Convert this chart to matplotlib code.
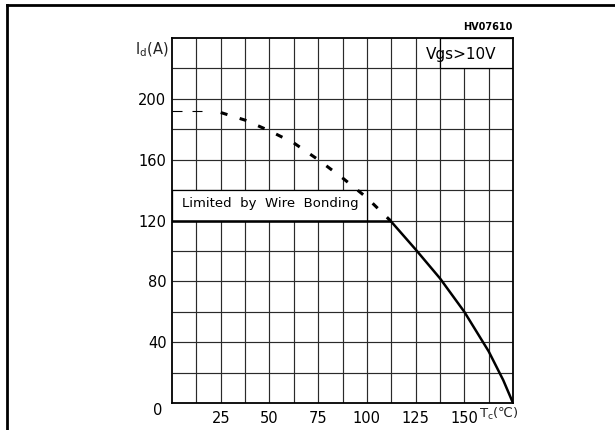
import numpy as np
import matplotlib
matplotlib.use("Agg")
import matplotlib.pyplot as plt
from matplotlib.patches import Rectangle
from matplotlib.lines import Line2D

plt.rcParams['font.family'] = ['DejaVu Sans']

# data
x_ticks = [25, 50, 75, 100, 125, 150]
y_ticks = [40, 80, 120, 160, 200]

# wire bonding limit (flat part) and the derating curve
limit_temp = [0, 112]
limit_id = [120, 120]

start_temp = [0, 20]
start_id = [192, 192]

dashed_temp = [25, 37.5, 50, 62.5, 75, 87.5, 100, 112]
dashed_id = [191, 186, 179, 171, 160, 148, 135, 120]

solid_temp = [112, 125, 137.5, 150, 162.5, 170, 175]
solid_id = [120, 101, 82, 60, 34, 15, 0]

fig = plt.figure(figsize=(6.15, 4.30), dpi=100)
ax = fig.add_axes([172 / 615, 1 - 403 / 430, 341 / 615, 365 / 430])
ax.set_xlim(0, 175)
ax.set_ylim(0, 240)

# grid: every 12.5 degC and 20 A
grid_x = np.arange(12.5, 175, 12.5)
grid_y = np.arange(20, 240, 20)
ax.vlines(grid_x, 0, 240, color='#2a2a2a', lw=0.85, zorder=1)
ax.hlines(grid_y, 0, 175, color='#2a2a2a', lw=0.85, zorder=1)

# label boxes blank out the grid underneath
ax.add_patch(Rectangle((137.5, 220), 37.5, 20, facecolor='white',
                       edgecolor='black', lw=0.9, zorder=2))
ax.add_patch(Rectangle((0, 120), 100, 20, facecolor='white',
                       edgecolor='black', lw=0.9, zorder=2))
ax.text(130.5, 229, 'Vgs>10V', fontsize=11, ha='left', va='center', zorder=3)
ax.text(5, 131, 'Limited  by  Wire  Bonding', fontsize=9.5, ha='left',
        va='center', zorder=3)

# curves
ax.plot(limit_temp, limit_id, color='black', lw=1.8, zorder=4)
ax.plot(start_temp, start_id, color='black', lw=0.8,
        linestyle=(0, (9, 9)), zorder=4)
ax.plot(dashed_temp, dashed_id, color='black', lw=2.2,
        linestyle=(0, (2.3, 4.2)), zorder=4)
ax.plot(solid_temp, solid_id, color='black', lw=1.8, zorder=4)

# axes styling
for sp in ax.spines.values():
    sp.set_linewidth(1.3)
    sp.set_zorder(5)
ax.set_xticks(x_ticks)
ax.set_xticklabels([str(v) for v in x_ticks])
ax.set_yticks(y_ticks)
ax.set_yticklabels([str(v) for v in y_ticks])
ax.tick_params(axis='both', length=0, labelsize=10.5)
ax.tick_params(axis='x', pad=6)
ax.tick_params(axis='y', pad=4)

ax.text(-5, -5, '0', fontsize=10.5, ha='right', va='center')
ax.text(-2, 232, r'I$_{\mathrm{d}}$(A)', fontsize=10.5, ha='right',
        va='center', color='#222222')
ax.text(157.5, -7, r'T$_{\mathrm{c}}$(℃)', fontsize=9.5, ha='left',
        va='center', color='#222222')
ax.text(175, 247, 'HV07610', fontsize=7, fontweight='bold', ha='right',
        va='center')

# outer frame (top and left edge only)
fig.add_artist(Line2D([7 / 615, 7 / 615], [0, 1 - 5 / 430],
                      color='black', lw=2, transform=fig.transFigure))
fig.add_artist(Line2D([7 / 615, 1], [1 - 5 / 430, 1 - 5 / 430],
                      color='black', lw=2, transform=fig.transFigure))

fig.savefig('out.png', dpi=100)
